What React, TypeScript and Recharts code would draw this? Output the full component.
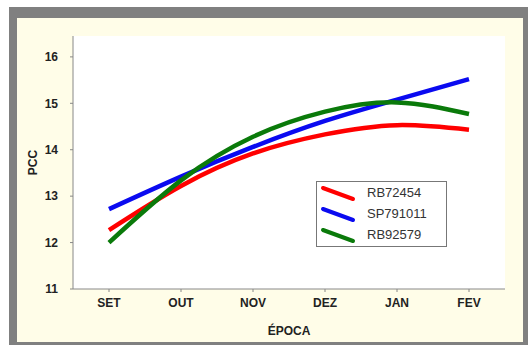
import React from 'react';
import { LineChart, Line, XAxis, YAxis, CartesianGrid, Legend } from 'recharts';

const EPOCAS = ['SET', 'OUT', 'NOV', 'DEZ', 'JAN', 'FEV'];
const RB72454 = [12.27, 13.22, 13.92, 14.33, 14.53, 14.43];
const SP791011 = [12.72, 13.42, 14.06, 14.62, 15.08, 15.52];
const RB92579 = [12.0, 13.34, 14.28, 14.82, 15.02, 14.77];
const Y_TICKS = [11, 12, 13, 14, 15, 16];

const SERIES = [
  { key: 'RB72454', values: RB72454, color: '#ff0000' },
  { key: 'SP791011', values: SP791011, color: '#0a0af0' },
  { key: 'RB92579', values: RB92579, color: '#0a7a0a' },
];

const data = EPOCAS.map((e, i) => {
  const row: Record<string, string | number> = { epoca: e };
  SERIES.forEach((s) => (row[s.key] = s.values[i]));
  return row;
});

const FONT = 'Liberation Sans, Arial, sans-serif';
const tickStyle = { fontFamily: FONT, fontSize: 12, fontWeight: 700, fill: '#222' };

// legenda com traço diagonal, na ordem das séries (sem ordenar)
const LegendBox = () => (
  <div style={{ width: 129, height: 64, border: '1px solid #777', background: '#fff', fontFamily: FONT }}>
    {SERIES.map((s) => (
      <div key={s.key} style={{ display: 'flex', alignItems: 'center', height: 21 }}>
        <svg width={50} height={20}>
          <line x1={6} y1={5} x2={36} y2={16} stroke={s.color} strokeWidth={4} strokeLinecap="round" />
        </svg>
        <span style={{ fontSize: 13, color: '#333' }}>{s.key}</span>
      </div>
    ))}
  </div>
);

export default function App() {
  return (
    <div style={{ position: 'fixed', left: 0, top: 0, width: 528, height: 345, background: '#fff' }}>
      <div style={{ position: 'absolute', left: 9, top: 7, width: 519, height: 338, background: '#808080' }} />
      <div style={{ position: 'absolute', left: 17, top: 18, width: 506, height: 324, background: '#fffde8' }} />
      <div style={{ position: 'absolute', left: 0, top: 0 }}>
        <LineChart width={528} height={345} data={data} margin={{ top: 36, right: 23, bottom: 0, left: 13 }}>
          <CartesianGrid fill="#fff" horizontal={false} vertical={false} />
          <XAxis
            dataKey="epoca"
            padding={{ left: 36, right: 36 }}
            height={56}
            tick={tickStyle}
            tickSize={3}
            tickMargin={6}
            stroke="#888"
            axisLine={{ stroke: '#888' }}
            label={{ value: 'ÉPOCA', position: 'insideBottom', offset: 10, style: tickStyle }}
          />
          <XAxis xAxisId="top" dataKey="epoca" orientation="top" height={0} tick={false} tickLine={false} stroke="#888" />
          <YAxis
            domain={[11, 16.45]}
            ticks={Y_TICKS}
            width={60}
            tick={tickStyle}
            tickSize={3}
            tickMargin={12}
            stroke="#888"
            allowDataOverflow
            label={{ value: 'PCC', angle: -90, position: 'insideLeft', offset: 20, style: { ...tickStyle, textAnchor: 'middle' } }}
          />
          <YAxis yAxisId="right" orientation="right" width={0} tick={false} tickLine={false} stroke="#888" />
          <Legend
            layout="horizontal"
            align="center"
            verticalAlign="middle"
            wrapperStyle={{ left: 316, top: 181, width: 131, height: 66 }}
            content={<LegendBox />}
          />
          {SERIES.map((s) => (
            <Line
              key={s.key}
              dataKey={s.key}
              type="natural"
              stroke={s.color}
              strokeWidth={4.5}
              dot={false}
              isAnimationActive={false}
            />
          ))}
        </LineChart>
      </div>
    </div>
  );
}
